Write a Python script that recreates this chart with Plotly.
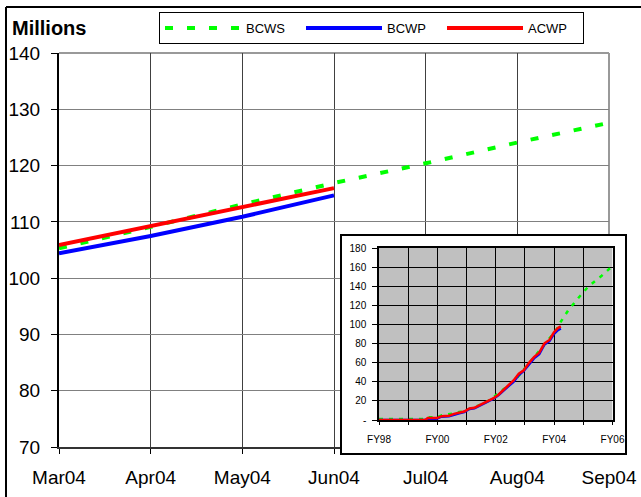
import plotly.graph_objects as go

# ---- main chart data (millions) ----
MONTHS = ["Mar04", "Apr04", "May04", "Jun04", "Jul04", "Aug04", "Sep04"]
BCWS_MAIN = [105.3, 109.1, 113.1, 116.9, 120.4, 124.1, 127.6]
BCWP_MAIN = [104.4, 107.5, 110.9, 114.7]
ACWP_MAIN = [105.9, 109.3, 112.7, 116.0]
Y_TICKS = [70, 80, 90, 100, 110, 120, 130, 140]

# ---- inset data (cumulative, by fiscal year) ----
FY_ACTUAL = [98.0, 99.58, 99.67, 99.99, 100.14, 100.40, 100.57, 100.75, 100.92,
             101.10, 101.27, 101.45, 101.60, 101.74, 101.91, 102.09, 102.26,
             102.44, 102.61, 102.79, 102.96, 103.14, 103.31, 103.49, 103.67,
             103.84, 103.99, 104.13, 104.23]
ACWP_INSET = [0, 0, 2, 2, 4, 4.5, 6.4, 7.4, 8.8, 12, 12.7, 15.6, 18, 19.4, 22.6,
              26.5, 31.5, 36.8, 41.4, 48.4, 52, 59.8, 65.8, 70.4, 80.3, 83.8,
              91.6, 96.2, 98]
BCWP_INSET = [0, 0, 0, 1.5, 3.5, 4, 5.8, 7, 8.3, 11.5, 12.2, 15, 17.3, 19, 22,
              26, 31, 35.5, 40, 47, 51.5, 58.5, 64.5, 69, 79, 82.5, 90, 94, 95.8]
FY_PLAN = [98.0, 99.58, 99.69, 99.99, 100.16, 100.51, 100.92, 101.21, 101.50,
           101.80, 102.09, 102.38, 102.67, 102.96, 103.20, 103.43, 103.67,
           103.90, 104.07, 104.23, 104.48, 104.78, 105.16, 105.63, 106.0]
BCWS_INSET = [1, 1, 2.8, 2.8, 5, 6.7, 9.5, 12.7, 16.3, 20.9, 27.9, 34.3, 42,
              52.7, 61.5, 70.4, 79.2, 88, 94, 102.9, 114.6, 125.9, 139.3, 151,
              161.2]
FY_TICKS = [98, 99, 100, 101, 102, 103, 104, 105, 106]
FY_LABELS = ["FY98", "", "FY00", "", "FY02", "", "FY04", "", "FY06"]
INSET_Y_TICKS = [0, 20, 40, 60, 80, 100, 120, 140, 160, 180]
INSET_Y_LABELS = ["-"] + [str(v) for v in INSET_Y_TICKS[1:]]

GREEN, BLUE, RED = "#00FF00", "#0000FF", "#FF0000"
FONT = "Arial, Liberation Sans, sans-serif"

# page geometry (pixels) and conversion to paper fractions
W, H = 641, 497
ML, MR, MT, MB = 59, 15, 53, 43


def fx(px):
    return (px - ML) / (W - ML - MR)


def fy(py):
    return (H - MB - py) / (H - MT - MB)


fig = go.Figure()

# main series
fig.add_trace(go.Scatter(x=MONTHS, y=BCWS_MAIN, mode="lines", name="BCWS",
                         line=dict(color=GREEN, width=4, dash="8px,14px"),
                         xaxis="x", yaxis="y"))
fig.add_trace(go.Scatter(x=MONTHS[:len(BCWP_MAIN)], y=BCWP_MAIN, mode="lines",
                         name="BCWP", line=dict(color=BLUE, width=4),
                         xaxis="x", yaxis="y"))
fig.add_trace(go.Scatter(x=MONTHS[:len(ACWP_MAIN)], y=ACWP_MAIN, mode="lines",
                         name="ACWP", line=dict(color=RED, width=4),
                         xaxis="x", yaxis="y"))

# empty trace that establishes the white inset frame
fig.add_trace(go.Scatter(x=[], y=[], xaxis="x2", yaxis="y2", showlegend=False,
                         hoverinfo="skip"))

# inset series
fig.add_trace(go.Scatter(x=FY_PLAN, y=BCWS_INSET, mode="lines", showlegend=False,
                         line=dict(color=GREEN, width=2.5, dash="4px,6px"),
                         xaxis="x3", yaxis="y3"))
fig.add_trace(go.Scatter(x=FY_ACTUAL, y=BCWP_INSET, mode="lines", showlegend=False,
                         line=dict(color=BLUE, width=2.5),
                         xaxis="x3", yaxis="y3"))
fig.add_trace(go.Scatter(x=FY_ACTUAL, y=ACWP_INSET, mode="lines", showlegend=False,
                         line=dict(color=RED, width=2.5),
                         xaxis="x3", yaxis="y3"))

INSET_XR = [FY_TICKS[0], FY_TICKS[-1]]
INSET_YR = [INSET_Y_TICKS[0], INSET_Y_TICKS[-1]]

fig.update_layout(
    width=W, height=H,
    margin=dict(l=ML, r=MR, t=MT, b=MB, pad=0, autoexpand=False),
    paper_bgcolor="white", plot_bgcolor="white",
    font=dict(family=FONT, color="black"),
    showlegend=True,
    legend=dict(orientation="h", x=fx(159), y=fy(12), xanchor="left",
                yanchor="top", bordercolor="black", borderwidth=1,
                bgcolor="white", font=dict(size=13, family=FONT),
                itemwidth=76, entrywidth=50, entrywidthmode="pixels",
                tracegroupgap=0),
    xaxis=dict(domain=[0, fx(609)], type="category", range=[0, 6],
               showgrid=True, gridcolor="#404040", gridwidth=1,
               showline=True, linecolor="#333333", linewidth=2,
               ticks="outside", ticklen=5, tickcolor="black",
               tickfont=dict(size=19), ticklabelstandoff=7,
               zeroline=False, fixedrange=True, automargin=False),
    yaxis=dict(domain=[fy(447), 1], range=[70, 140], tickvals=Y_TICKS,
               showgrid=True, gridcolor="#808080", gridwidth=1,
               showline=True, linecolor="black", linewidth=2,
               ticks="outside", ticklen=6, tickcolor="black",
               tickfont=dict(size=19), ticklabelstandoff=7,
               zeroline=False, fixedrange=True, automargin=False),
    xaxis2=dict(domain=[fx(341.5), fx(624.5)], range=[0, 1], anchor="y2",
                showgrid=False, zeroline=False, showticklabels=False,
                showline=True, mirror=True, linecolor="black", linewidth=2,
                fixedrange=True, automargin=False),
    yaxis2=dict(domain=[fy(453), fy(236)], range=[0, 1], anchor="x2",
                showgrid=False, zeroline=False, showticklabels=False,
                showline=True, mirror=True, linecolor="black", linewidth=2,
                fixedrange=True, automargin=False),
    xaxis3=dict(domain=[fx(379), fx(612.5)], range=INSET_XR, anchor="y3",
                tickvals=FY_TICKS, ticktext=FY_LABELS,
                showgrid=True, gridcolor="black", gridwidth=1,
                showline=True, mirror=True, linecolor="black", linewidth=1.5,
                ticks="outside", ticklen=3, tickcolor="black",
                tickfont=dict(size=10), ticklabelstandoff=6,
                zeroline=False, fixedrange=True, automargin=False),
    yaxis3=dict(domain=[fy(420), fy(248)], range=INSET_YR, anchor="x3",
                tickvals=INSET_Y_TICKS, ticktext=INSET_Y_LABELS,
                showgrid=True, gridcolor="black", gridwidth=1,
                showline=True, mirror=True, linecolor="black", linewidth=1.5,
                ticks="outside", ticklen=5, tickcolor="black",
                tickfont=dict(size=10), ticklabelstandoff=4,
                zeroline=False, fixedrange=True, automargin=False),
    shapes=[
        # grey plot-area background of the inset
        dict(type="rect", xref="x3", yref="y3", x0=INSET_XR[0], x1=INSET_XR[1],
             y0=INSET_YR[0], y1=INSET_YR[1], fillcolor="#C0C0C0",
             line=dict(width=0), layer="below"),
        # grey top and right edges of the main plot area
        dict(type="line", xref="paper", yref="paper", x0=0, x1=fx(609),
             y0=1, y1=1, line=dict(color="#999999", width=2), layer="below"),
        dict(type="line", xref="paper", yref="paper", x0=fx(609), x1=fx(609),
             y0=fy(447), y1=1, line=dict(color="#999999", width=2),
             layer="below"),
        # outer frame edges
        dict(type="line", xref="paper", yref="paper", x0=fx(6), x1=fx(6),
             y0=fy(500), y1=fy(7), line=dict(color="black", width=2)),
        dict(type="line", xref="paper", yref="paper", x0=fx(6), x1=fx(645),
             y0=fy(7), y1=fy(7), line=dict(color="black", width=2)),
    ],
    annotations=[
        dict(text="<b>Millions</b>", xref="paper", yref="paper", x=fx(10),
             y=fy(28), xanchor="left", yanchor="middle", showarrow=False,
             font=dict(size=20, family=FONT)),
    ],
)

fig.write_html("out.html")
